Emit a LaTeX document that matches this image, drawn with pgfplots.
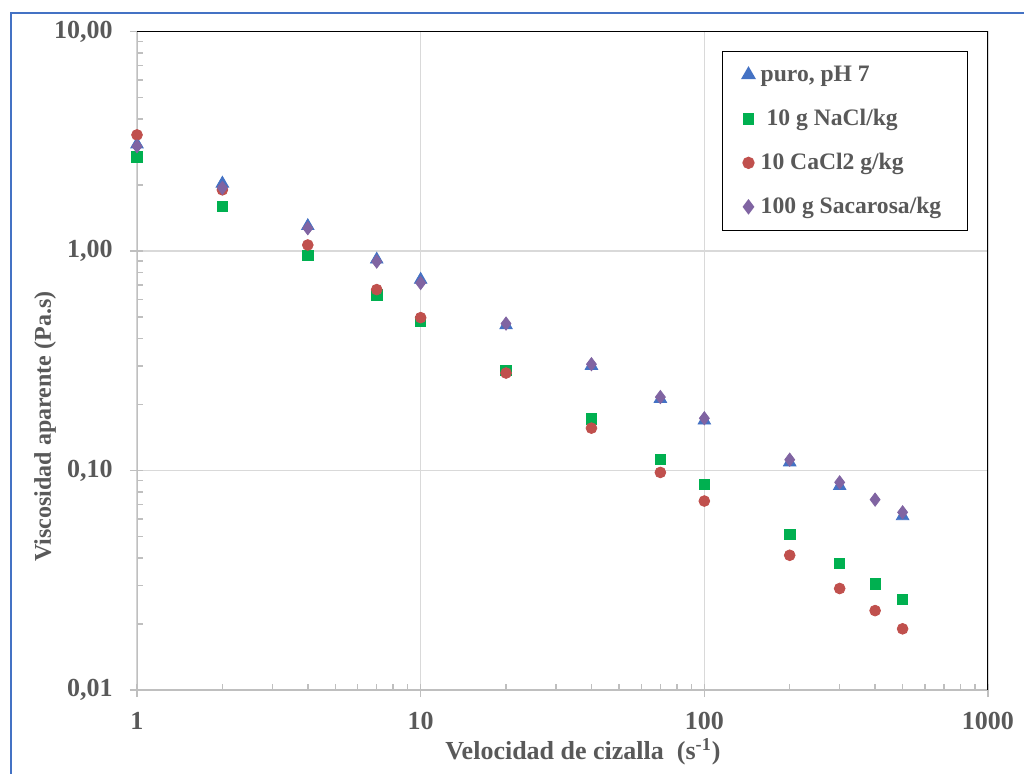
\documentclass[border=0pt]{standalone}
\usepackage{fontspec}
\setmainfont{Liberation Serif}
\usepackage{pgfplots}
\pgfplotsset{compat=1.18}
\definecolor{txt}{HTML}{595959}
\definecolor{frameblue}{HTML}{4472C4}
\definecolor{gridc}{HTML}{D9D9D9}
\definecolor{axc}{HTML}{BFBFBF}
\definecolor{cblue}{HTML}{4472C4}
\definecolor{cgreen}{HTML}{00B050}
\definecolor{cred}{HTML}{C0504D}
\definecolor{cpurple}{HTML}{8064A2}
\newcommand\tl[1]{\mbox{\fontsize{13}{15}\selectfont\bfseries\color{txt}#1}}
\begin{document}
\begin{tikzpicture}
\useasboundingbox (0,0) rectangle (512pt,-387pt);
\draw[frameblue, line width=1pt] (5.25pt,-400pt) -- (5.25pt,-6.5pt) -- (520pt,-6.5pt);
\begin{axis}[
  at={(68.5pt,-345pt)}, anchor=south west,
  scale only axis, width=425.5pt, height=329.25pt,
  xmode=log, ymode=log,
  xmin=1, xmax=1000, ymin=0.01, ymax=10,
  xtick={1,10,100,1000}, xticklabels={\tl{1},\tl{10},\tl{100},\tl{1000}},
  ytick={0.01,0.1,1,10}, yticklabels={\tl{0,01},\tl{0,10},\tl{1,00},\tl{10,00}},
  xtick pos=left, ytick pos=left,
  tick align=inside,
  major tick length=6.5pt, minor tick length=3pt,
  major x tick style={yshift=-3.5pt},
  major y tick style={xshift=-3.5pt},
  tick style={axc, line width=0.75pt},
  grid=major,
  major grid style={gridc, line width=0.75pt},
  axis line style={draw=none},
  xticklabel style={anchor=center, yshift=-15.5pt},
  yticklabel style={anchor=east, inner sep=0pt, xshift=-12pt},
  xlabel={Velocidad de cizalla\ \ (s\textsuperscript{-1})},
  ylabel={Viscosidad aparente (Pa.s)},
  xlabel style={font=\fontsize{13}{15}\selectfont\bfseries, text=txt, at={(axis description cs:0.524,0)}, anchor=center, yshift=-31pt},
  ylabel style={font=\fontsize{12}{14}\selectfont\bfseries, text=txt, at={(axis description cs:0,0.40)}, anchor=center, yshift=46pt},
  legend style={at={(0.9765,0.971)}, anchor=north east, draw=black, line width=0.75pt,
    fill=white, font=\fontsize{11.8}{14}\selectfont\bfseries, text=txt,
    inner xsep=10pt, inner ysep=6pt, row sep=10.5pt,
    nodes={inner xsep=3pt, inner ysep=0pt, text height=9pt, text depth=2.5pt}},
  legend cell align=left,
  legend image code/.code={\draw[#1] plot coordinates {(0pt,0pt)};},
]
\addplot[only marks, mark=triangle*, mark size=3.6pt, color=cblue] coordinates {
(1,3.06)(2,2.03)(4,1.30)(7,0.915)(10,0.74)(20,0.459)(40,0.30)(70,0.212)(100,0.169)(200,0.109)(300,0.085)(500,0.062)};
\addlegendentry{puro, pH 7}
\addplot[only marks, mark=square*, mark size=2.6pt, color=cgreen] coordinates {
(1,2.68)(2,1.60)(4,0.953)(7,0.63)(10,0.477)(20,0.286)(40,0.172)(70,0.1125)(100,0.0862)(200,0.051)(300,0.0378)(400,0.0305)(500,0.0259)};
\addlegendentry{\ 10 g NaCl/kg}
\addplot[only marks, mark=*, mark size=2.7pt, color=cred] coordinates {
(1,3.38)(2,1.90)(4,1.065)(7,0.667)(10,0.497)(20,0.278)(40,0.156)(70,0.098)(100,0.0726)(200,0.0411)(300,0.029)(400,0.023)(500,0.019)};
\addlegendentry{10 CaCl2 g/kg}
\addplot[only marks, mark=diamond*, mark size=3.3pt, color=cpurple] coordinates {
(1,3.0)(2,1.94)(4,1.27)(7,0.895)(10,0.715)(20,0.467)(40,0.305)(70,0.216)(100,0.173)(200,0.112)(300,0.0883)(400,0.0737)(500,0.0645)};
\addlegendentry{100 g Sacarosa/kg}
\draw[axc, line width=0.75pt] (rel axis cs:0,1) -- (rel axis cs:0,0) -- (rel axis cs:1,0);
\draw[black, line width=1pt] (rel axis cs:0,1) -- (rel axis cs:1,1) -- (rel axis cs:1,0);
\end{axis}
\end{tikzpicture}
\end{document}
